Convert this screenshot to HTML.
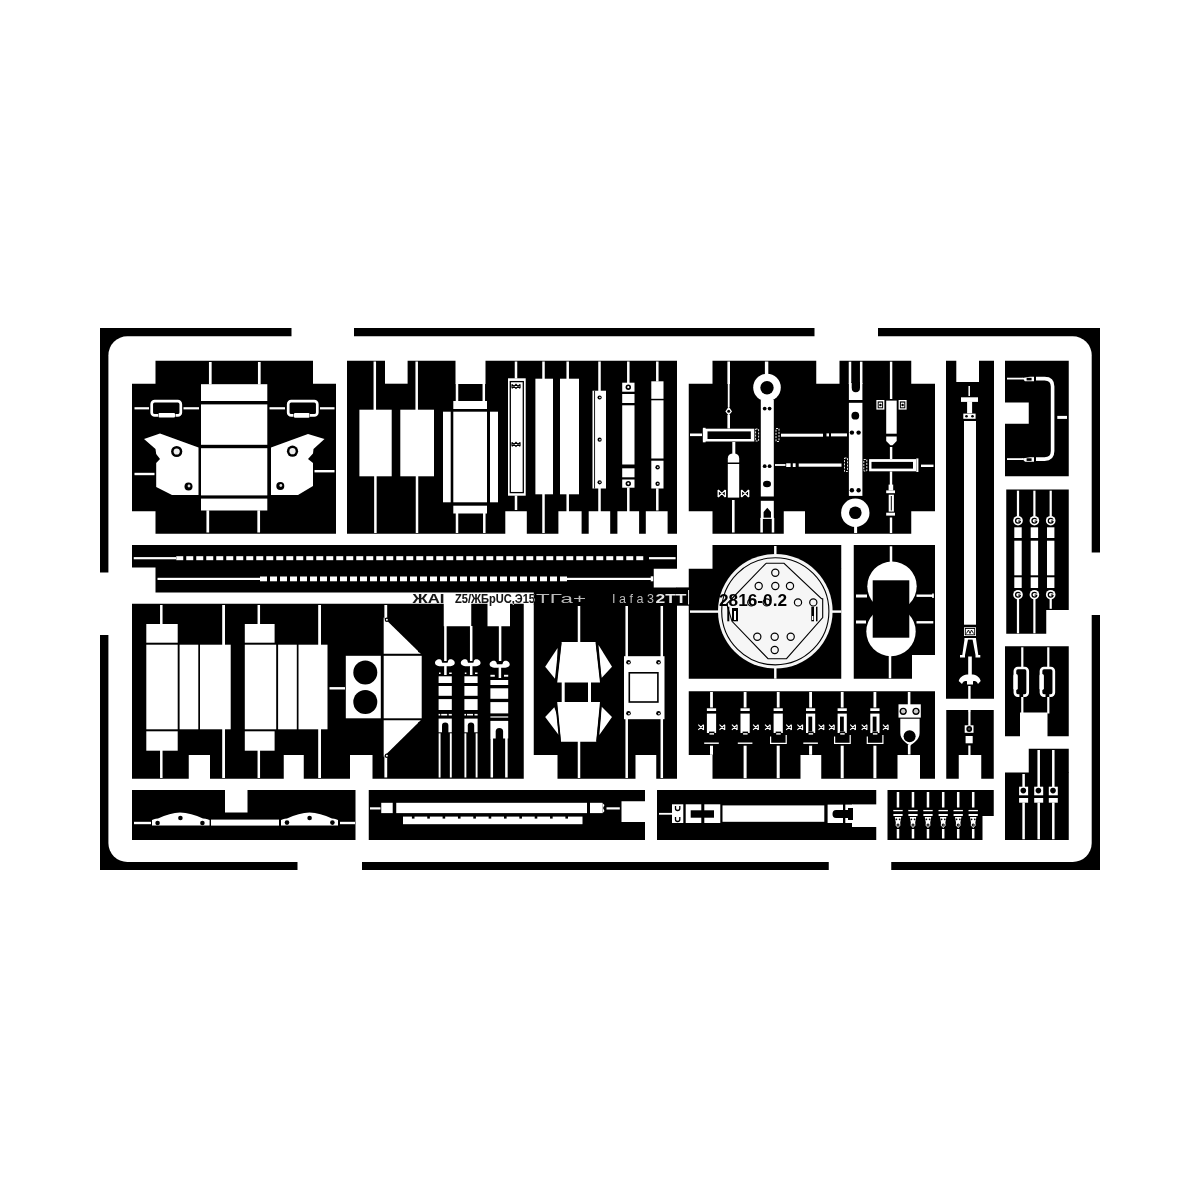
<!DOCTYPE html>
<html><head><meta charset="utf-8"><title>Photo-etch fret</title>
<style>
html,body{margin:0;padding:0;background:#fff;font-family:"Liberation Sans",sans-serif;}
svg{display:block;}
</style></head><body>
<svg width="1200" height="1200" viewBox="0 0 1200 1200">
<g filter="url(#soft)">
<rect x="-10" y="-10" width="1220" height="1220" fill="#fff"/>
<rect x="100" y="328" width="1000" height="542" fill="#000"/>
<rect x="108.4" y="336.2" width="983.3" height="525.8" rx="19" fill="#fff"/>
<rect x="291.5" y="320" width="62.5" height="20" fill="#fff"/>
<rect x="814.5" y="320" width="63.5" height="20" fill="#fff"/>
<rect x="95" y="572.5" width="17" height="62.5" fill="#fff"/>
<rect x="1088" y="552.5" width="17" height="62.5" fill="#fff"/>
<rect x="297.5" y="860" width="64.5" height="15" fill="#fff"/>
<rect x="828.75" y="860" width="62.5" height="15" fill="#fff"/>
<rect x="155.5" y="360.75" width="157.5" height="23.25" fill="#000"/>
<rect x="132" y="383.75" width="204" height="127.5" fill="#000"/>
<rect x="155.5" y="511" width="180.5" height="22.75" fill="#000"/>
<rect x="347" y="360.75" width="330" height="173" fill="#000"/>
<rect x="385" y="360" width="22.6" height="23.7" fill="#fff"/>
<rect x="455.5" y="360" width="30" height="24" fill="#fff"/>
<rect x="505.3" y="511.25" width="21.5" height="23.25" fill="#fff"/>
<rect x="558.4" y="511.25" width="23.2" height="23.25" fill="#fff"/>
<rect x="588.7" y="511.25" width="21.5" height="23.25" fill="#fff"/>
<rect x="617.4" y="511.25" width="21.7" height="23.25" fill="#fff"/>
<rect x="645.8" y="511.25" width="21.8" height="23.25" fill="#fff"/>
<rect x="712.5" y="360.75" width="103.75" height="23.25" fill="#000"/>
<rect x="839.5" y="360.75" width="71.75" height="23.25" fill="#000"/>
<rect x="688.75" y="383.75" width="246.25" height="127.5" fill="#000"/>
<rect x="712.5" y="511" width="71.25" height="22.75" fill="#000"/>
<rect x="805" y="511" width="106.25" height="22.75" fill="#000"/>
<rect x="946" y="360.75" width="48" height="338" fill="#000"/>
<rect x="956.3" y="360" width="22.7" height="22" fill="#fff"/>
<rect x="1005" y="360.75" width="63.75" height="115.5" fill="#000"/>
<rect x="1004" y="402.5" width="24.75" height="21.25" fill="#fff"/>
<rect x="1006.25" y="489.5" width="62.5" height="144.25" fill="#000"/>
<rect x="1046.25" y="610" width="23.25" height="24.5" fill="#fff"/>
<rect x="132" y="545" width="545" height="22.5" fill="#000"/>
<rect x="155.5" y="567" width="521.5" height="25.5" fill="#000"/>
<rect x="712.5" y="545" width="128.75" height="24" fill="#000"/>
<rect x="688.75" y="568.75" width="152.5" height="110" fill="#000"/>
<rect x="853.75" y="545" width="81.25" height="133.75" fill="#000"/>
<rect x="132" y="603.75" width="391.75" height="175" fill="#000"/>
<rect x="188.75" y="755" width="21.25" height="24.5" fill="#fff"/>
<rect x="283.75" y="755" width="20" height="24.5" fill="#fff"/>
<rect x="350" y="755" width="22.5" height="24.5" fill="#fff"/>
<rect x="443.75" y="603" width="27.5" height="23.25" fill="#fff"/>
<rect x="487.5" y="603" width="22.5" height="23.25" fill="#fff"/>
<rect x="533.75" y="603.75" width="143.25" height="175" fill="#000"/>
<rect x="533" y="755" width="24.5" height="24.5" fill="#fff"/>
<rect x="635.5" y="755" width="20.75" height="24.5" fill="#fff"/>
<rect x="688.75" y="691.25" width="246.25" height="87.5" fill="#000"/>
<rect x="688" y="755" width="24.5" height="24.5" fill="#fff"/>
<rect x="800.5" y="755" width="20.75" height="24.5" fill="#fff"/>
<rect x="897.5" y="755" width="22.5" height="24.5" fill="#fff"/>
<rect x="946.25" y="710" width="47.5" height="68.75" fill="#000"/>
<rect x="958.75" y="755" width="22.5" height="24.5" fill="#fff"/>
<rect x="1005" y="646.25" width="63.75" height="90" fill="#000"/>
<rect x="1020" y="712.5" width="27.5" height="24.5" fill="#fff"/>
<rect x="1028.75" y="748.75" width="40" height="24.25" fill="#000"/>
<rect x="1005" y="772.5" width="63.75" height="67.5" fill="#000"/>
<rect x="132" y="790" width="223.5" height="50" fill="#000"/>
<rect x="225" y="789" width="22.5" height="23.5" fill="#fff"/>
<rect x="368.75" y="790" width="276.25" height="50" fill="#000"/>
<rect x="621.5" y="801.25" width="24.5" height="20.75" fill="#fff"/>
<rect x="657" y="790" width="219.25" height="50" fill="#000"/>
<rect x="887.5" y="790" width="106.25" height="50" fill="#000"/>
<rect x="982.5" y="816" width="12" height="25" fill="#fff"/>
<rect x="208.95" y="362" width="2.7" height="22.5" fill="#fff"/>
<rect x="257.95" y="362" width="2.7" height="22.5" fill="#fff"/>
<rect x="206.45" y="510.3" width="2.7" height="22.2" fill="#fff"/>
<rect x="257.35" y="510.3" width="2.7" height="22.2" fill="#fff"/>
<rect x="201" y="384.2" width="66.3" height="16.8" fill="#fff"/>
<rect x="201" y="404.4" width="66.3" height="40.4" fill="#fff"/>
<rect x="201" y="448.2" width="66.3" height="47.2" fill="#fff"/>
<rect x="201" y="498.6" width="66.3" height="11.9" fill="#fff"/>
<rect x="151.7" y="401.2" width="29.1" height="14.2" rx="3" fill="none" stroke="#fff" stroke-width="2.7"/>
<rect x="288.2" y="401.2" width="29.1" height="14.2" rx="3" fill="none" stroke="#fff" stroke-width="2.7"/>
<rect x="158" y="414" width="17.5" height="4" fill="#000"/>
<rect x="158.5" y="413" width="16.5" height="4.6" rx="1" fill="#fff"/>
<rect x="293.5" y="414" width="16.5" height="4" fill="#000"/>
<rect x="294" y="413" width="15.5" height="4.8" rx="1" fill="#fff"/>
<rect x="134.5" y="407.2" width="14.5" height="2.2" fill="#fff"/>
<rect x="183.5" y="407.2" width="15.5" height="2.2" fill="#fff"/>
<rect x="269.5" y="407.2" width="15.5" height="2.2" fill="#fff"/>
<rect x="320" y="407.2" width="14.5" height="2.2" fill="#fff"/>
<rect x="134.5" y="472.8" width="20" height="2.4" fill="#fff"/>
<rect x="314.5" y="470" width="20" height="2.4" fill="#fff"/>
<polygon points="144,439 160,433.5 198.5,447.5 198.5,495 172,495 156.2,487 156.2,463 160,459 156.2,454 155.5,449" fill="#fff"/>
<polygon points="271,447.5 308,434 324.5,439 313.5,449 313,453.5 308,459 313,463 313,486 298,495 271,495" fill="#fff"/>
<circle cx="176.7" cy="451.5" r="5.6" fill="#000"/>
<circle cx="176.7" cy="451.5" r="3.1" fill="#eee"/>
<circle cx="292.5" cy="451.2" r="5.6" fill="#000"/>
<circle cx="292.5" cy="451.2" r="3.1" fill="#eee"/>
<circle cx="188.5" cy="486.5" r="4" fill="#000"/>
<circle cx="189" cy="486" r="1.4" fill="#ddd"/>
<circle cx="280.3" cy="486" r="4" fill="#000"/>
<circle cx="280.8" cy="485.5" r="1.4" fill="#ddd"/>
<rect x="653.75" y="568.75" width="24.25" height="18.75" fill="#fff"/>
<rect x="133.75" y="557.1" width="42.25" height="2.2" fill="#fff"/>
<rect x="176.25" y="556.2" width="7" height="4" fill="#fff"/>
<rect x="186.25" y="556.2" width="7" height="4" fill="#fff"/>
<rect x="196.25" y="556.2" width="7" height="4" fill="#fff"/>
<rect x="206.25" y="556.2" width="7" height="4" fill="#fff"/>
<rect x="216.25" y="556.2" width="7" height="4" fill="#fff"/>
<rect x="226.25" y="556.2" width="7" height="4" fill="#fff"/>
<rect x="236.25" y="556.2" width="7" height="4" fill="#fff"/>
<rect x="246.25" y="556.2" width="7" height="4" fill="#fff"/>
<rect x="256.25" y="556.2" width="7" height="4" fill="#fff"/>
<rect x="266.25" y="556.2" width="7" height="4" fill="#fff"/>
<rect x="276.25" y="556.2" width="7" height="4" fill="#fff"/>
<rect x="286.25" y="556.2" width="7" height="4" fill="#fff"/>
<rect x="296.25" y="556.2" width="7" height="4" fill="#fff"/>
<rect x="306.25" y="556.2" width="7" height="4" fill="#fff"/>
<rect x="316.25" y="556.2" width="7" height="4" fill="#fff"/>
<rect x="326.25" y="556.2" width="7" height="4" fill="#fff"/>
<rect x="336.25" y="556.2" width="7" height="4" fill="#fff"/>
<rect x="346.25" y="556.2" width="7" height="4" fill="#fff"/>
<rect x="356.25" y="556.2" width="7" height="4" fill="#fff"/>
<rect x="366.25" y="556.2" width="7" height="4" fill="#fff"/>
<rect x="376.25" y="556.2" width="7" height="4" fill="#fff"/>
<rect x="386.25" y="556.2" width="7" height="4" fill="#fff"/>
<rect x="396.25" y="556.2" width="7" height="4" fill="#fff"/>
<rect x="406.25" y="556.2" width="7" height="4" fill="#fff"/>
<rect x="416.25" y="556.2" width="7" height="4" fill="#fff"/>
<rect x="426.25" y="556.2" width="7" height="4" fill="#fff"/>
<rect x="436.25" y="556.2" width="7" height="4" fill="#fff"/>
<rect x="446.25" y="556.2" width="7" height="4" fill="#fff"/>
<rect x="456.25" y="556.2" width="7" height="4" fill="#fff"/>
<rect x="466.25" y="556.2" width="7" height="4" fill="#fff"/>
<rect x="476.25" y="556.2" width="7" height="4" fill="#fff"/>
<rect x="486.25" y="556.2" width="7" height="4" fill="#fff"/>
<rect x="496.25" y="556.2" width="7" height="4" fill="#fff"/>
<rect x="506.25" y="556.2" width="7" height="4" fill="#fff"/>
<rect x="516.25" y="556.2" width="7" height="4" fill="#fff"/>
<rect x="526.25" y="556.2" width="7" height="4" fill="#fff"/>
<rect x="536.25" y="556.2" width="7" height="4" fill="#fff"/>
<rect x="546.25" y="556.2" width="7" height="4" fill="#fff"/>
<rect x="556.25" y="556.2" width="7" height="4" fill="#fff"/>
<rect x="566.25" y="556.2" width="7" height="4" fill="#fff"/>
<rect x="576.25" y="556.2" width="7" height="4" fill="#fff"/>
<rect x="586.25" y="556.2" width="7" height="4" fill="#fff"/>
<rect x="596.25" y="556.2" width="7" height="4" fill="#fff"/>
<rect x="606.25" y="556.2" width="7" height="4" fill="#fff"/>
<rect x="616.25" y="556.2" width="7" height="4" fill="#fff"/>
<rect x="626.25" y="556.2" width="7" height="4" fill="#fff"/>
<rect x="636.25" y="556.2" width="7" height="4" fill="#fff"/>
<rect x="649" y="557.1" width="26.6" height="2.2" fill="#fff"/>
<rect x="157.5" y="577.8" width="102.5" height="2.2" fill="#fff"/>
<rect x="260" y="576.5" width="7" height="4.8" fill="#fff"/>
<rect x="270" y="576.5" width="7" height="4.8" fill="#fff"/>
<rect x="280" y="576.5" width="7" height="4.8" fill="#fff"/>
<rect x="290" y="576.5" width="7" height="4.8" fill="#fff"/>
<rect x="300" y="576.5" width="7" height="4.8" fill="#fff"/>
<rect x="310" y="576.5" width="7" height="4.8" fill="#fff"/>
<rect x="320" y="576.5" width="7" height="4.8" fill="#fff"/>
<rect x="330" y="576.5" width="7" height="4.8" fill="#fff"/>
<rect x="340" y="576.5" width="7" height="4.8" fill="#fff"/>
<rect x="350" y="576.5" width="7" height="4.8" fill="#fff"/>
<rect x="360" y="576.5" width="7" height="4.8" fill="#fff"/>
<rect x="370" y="576.5" width="7" height="4.8" fill="#fff"/>
<rect x="380" y="576.5" width="7" height="4.8" fill="#fff"/>
<rect x="390" y="576.5" width="7" height="4.8" fill="#fff"/>
<rect x="400" y="576.5" width="7" height="4.8" fill="#fff"/>
<rect x="410" y="576.5" width="7" height="4.8" fill="#fff"/>
<rect x="420" y="576.5" width="7" height="4.8" fill="#fff"/>
<rect x="430" y="576.5" width="7" height="4.8" fill="#fff"/>
<rect x="440" y="576.5" width="7" height="4.8" fill="#fff"/>
<rect x="450" y="576.5" width="7" height="4.8" fill="#fff"/>
<rect x="460" y="576.5" width="7" height="4.8" fill="#fff"/>
<rect x="470" y="576.5" width="7" height="4.8" fill="#fff"/>
<rect x="480" y="576.5" width="7" height="4.8" fill="#fff"/>
<rect x="490" y="576.5" width="7" height="4.8" fill="#fff"/>
<rect x="500" y="576.5" width="7" height="4.8" fill="#fff"/>
<rect x="510" y="576.5" width="7" height="4.8" fill="#fff"/>
<rect x="520" y="576.5" width="7" height="4.8" fill="#fff"/>
<rect x="530" y="576.5" width="7" height="4.8" fill="#fff"/>
<rect x="540" y="576.5" width="7" height="4.8" fill="#fff"/>
<rect x="550" y="576.5" width="7" height="4.8" fill="#fff"/>
<rect x="560" y="576.5" width="7" height="4.8" fill="#fff"/>
<rect x="566" y="577.8" width="86" height="2.2" fill="#fff"/>
<rect x="650.75" y="576.3" width="2.5" height="5" fill="#fff"/>
<rect x="455.75" y="383.7" width="2.5" height="17.3" fill="#fff"/>
<rect x="482.55" y="383.7" width="2.5" height="17.3" fill="#fff"/>
<rect x="455.75" y="513" width="2.5" height="20" fill="#fff"/>
<rect x="483.05" y="513" width="2.5" height="20" fill="#fff"/>
<rect x="359.4" y="409.7" width="32.3" height="66.6" fill="#fff"/>
<rect x="400.3" y="409.7" width="33.7" height="66.6" fill="#fff"/>
<rect x="373.55" y="361.5" width="2.5" height="48.5" fill="#fff"/>
<rect x="374.15" y="476" width="2.5" height="57" fill="#fff"/>
<rect x="415.45" y="361.5" width="2.5" height="48.5" fill="#fff"/>
<rect x="415.75" y="476" width="2.5" height="57" fill="#fff"/>
<rect x="453.3" y="401" width="33.7" height="8" fill="#fff"/>
<rect x="453.3" y="411.7" width="33.7" height="90.6" fill="#fff"/>
<rect x="453.3" y="505.7" width="33.7" height="7.8" fill="#fff"/>
<rect x="443" y="411.7" width="7.7" height="90.6" fill="#fff"/>
<rect x="490" y="411.7" width="8" height="90.6" fill="#fff"/>
<rect x="508" y="378.3" width="17.7" height="117.4" fill="#fff"/>
<rect x="510.3" y="381.6" width="13" height="111" fill="none" stroke="#000" stroke-width="1.3"/>
<path d="M512,384.3 l4,4 l4,-4 M512,388.3 l4,-4 l4,4 M512,384.3 v4 M520,384.3 v4" fill="none" stroke="#000" stroke-width="1.2" />
<path d="M512,442.3 l4,4 l4,-4 M512,446.3 l4,-4 l4,4 M512,442.3 v4 M520,442.3 v4" fill="none" stroke="#000" stroke-width="1.2" />
<rect x="514.75" y="361.5" width="2.5" height="17" fill="#fff"/>
<rect x="514.75" y="495.5" width="2.5" height="14.5" fill="#fff"/>
<rect x="535.4" y="378.7" width="17.6" height="115.6" fill="#fff"/>
<rect x="542.25" y="361.5" width="2.5" height="17.5" fill="#fff"/>
<rect x="542.25" y="494" width="2.5" height="39" fill="#fff"/>
<rect x="560" y="378.7" width="19" height="115.6" fill="#fff"/>
<rect x="566.45" y="361.5" width="2.5" height="17.5" fill="#fff"/>
<rect x="566.45" y="494" width="2.5" height="18" fill="#fff"/>
<rect x="592.5" y="390.7" width="13.5" height="97.8" fill="#fff"/>
<rect x="594.15" y="390.7" width="0.9" height="97.8" fill="#000"/>
<rect x="598.25" y="361.5" width="2.5" height="29.5" fill="#fff"/>
<rect x="598.25" y="488" width="2.5" height="24" fill="#fff"/>
<circle cx="599.6" cy="397.5" r="2.1" fill="#000"/>
<circle cx="599.9" cy="397.5" r="0.8" fill="#fff"/>
<circle cx="599.6" cy="439.7" r="2.1" fill="#000"/>
<circle cx="599.9" cy="439.7" r="0.8" fill="#fff"/>
<circle cx="599.6" cy="482.3" r="2.1" fill="#000"/>
<circle cx="599.9" cy="482.3" r="0.8" fill="#fff"/>
<rect x="627.05" y="361.5" width="2.5" height="21.5" fill="#fff"/>
<rect x="627.05" y="487.5" width="2.5" height="24.5" fill="#fff"/>
<rect x="622.2" y="382.7" width="12.3" height="9" fill="#fff"/>
<rect x="622.2" y="394" width="12.3" height="9" fill="#fff"/>
<rect x="622.2" y="405.3" width="12.3" height="59.2" fill="#fff"/>
<rect x="622.2" y="468.3" width="12.3" height="9" fill="#fff"/>
<rect x="622.2" y="479.5" width="12.3" height="8.2" fill="#fff"/>
<circle cx="628.3" cy="387.2" r="2.7" fill="#000"/>
<circle cx="628.3" cy="387.2" r="1.1" fill="#fff"/>
<circle cx="628.3" cy="483.6" r="2.7" fill="#000"/>
<circle cx="628.3" cy="483.6" r="1.1" fill="#fff"/>
<rect x="656.05" y="361.5" width="2.5" height="20" fill="#fff"/>
<rect x="656.05" y="488.3" width="2.5" height="22.2" fill="#fff"/>
<rect x="651.3" y="381.3" width="12.2" height="17.5" fill="#fff"/>
<rect x="651.3" y="400.3" width="12.2" height="58.2" fill="#fff"/>
<rect x="651.3" y="460.7" width="12.2" height="27.8" fill="#fff"/>
<circle cx="657.6" cy="467.2" r="2.2" fill="#000"/>
<circle cx="657.8" cy="467.2" r="0.8" fill="#fff"/>
<circle cx="657.6" cy="483.7" r="2.2" fill="#000"/>
<circle cx="657.8" cy="483.7" r="0.8" fill="#fff"/>
<rect x="727.4" y="361.5" width="2.6" height="22.5" fill="#fff"/>
<rect x="727.8" y="384" width="1.8" height="23" fill="#fff"/>
<rect x="727.4" y="415" width="2.6" height="13.5" fill="#fff"/>
<polygon points="728.7,406.5 732,411.5 728.7,415.5 725.4,411.5" fill="#fff"/>
<circle cx="728.7" cy="411.3" r="1.5" fill="#000"/>
<rect x="702.9" y="428.7" width="51.4" height="12.8" fill="#fff"/>
<rect x="707.5" y="431.4" width="43.3" height="7.6" fill="#000"/>
<rect x="702.9" y="427.8" width="2.7" height="14.5" fill="#fff"/>
<rect x="690" y="433.5" width="12" height="2.6" fill="#fff"/>
<rect x="755.6" y="429" width="3" height="12" fill="none" stroke="#fff" stroke-width="0.9" stroke-dasharray="2 1.2"/>
<rect x="732.3" y="442" width="3" height="12" fill="#fff"/>
<path d="M727.8,462.4 L727.8,458.5 Q727.8,453.6 733.5,453.6 Q739.2,453.6 739.2,458.5 L739.2,462.4 Z" fill="#fff"/>
<rect x="727.8" y="464" width="11.4" height="33.6" fill="#fff"/>
<path d="M718.1999999999999,489.9 L725.4,497.1 M725.4,489.9 L718.1999999999999,497.1 M718.1999999999999,489.9 V497.1 M725.4,489.9 V497.1" fill="none" stroke="#fff" stroke-width="1.3" />
<path d="M741.5,489.9 L748.7,497.1 M748.7,489.9 L741.5,497.1 M741.5,489.9 V497.1 M748.7,489.9 V497.1" fill="none" stroke="#fff" stroke-width="1.3" />
<rect x="732" y="500" width="2.6" height="32.5" fill="#fff"/>
<rect x="764.9" y="361.5" width="3.4" height="13.5" fill="#fff"/>
<circle cx="767" cy="387.5" r="13.8" fill="#fff"/>
<circle cx="767" cy="387.8" r="6.7" fill="#000"/>
<rect x="760.8" y="400" width="13" height="96.5" fill="#fff"/>
<circle cx="764.7" cy="408.6" r="1.9" fill="#000"/>
<circle cx="769.6" cy="408.6" r="1.9" fill="#000"/>
<circle cx="764.7" cy="466.2" r="1.9" fill="#000"/>
<circle cx="769.6" cy="466.2" r="1.9" fill="#000"/>
<ellipse cx="767" cy="484" rx="4" ry="3.2" fill="#000"/>
<rect x="760.8" y="500.8" width="13" height="17.7" fill="#fff"/>
<polygon points="763.6,519 763.6,512 767.3,507.8 771,512 771,519" fill="#000"/>
<rect x="760.35" y="518" width="2.5" height="14.5" fill="#fff"/>
<rect x="771.75" y="518" width="2.5" height="14.5" fill="#fff"/>
<rect x="760.8" y="517.7" width="13" height="1.2" fill="#fff"/>
<rect x="781" y="433.7" width="42" height="3" fill="#fff"/>
<rect x="826.5" y="433.4" width="2.5" height="3" fill="#fff"/>
<rect x="831" y="433.4" width="16" height="3" fill="#fff"/>
<rect x="776" y="428.5" width="3" height="13" fill="none" stroke="#fff" stroke-width="0.9" stroke-dasharray="2 1.2"/>
<rect x="775" y="464.1" width="10.5" height="1.8" fill="#fff"/>
<rect x="786.2" y="463.3" width="4.4" height="3.7" fill="#fff"/>
<rect x="792.8" y="463.3" width="2.8" height="3.7" fill="#fff"/>
<rect x="798.7" y="463.5" width="42.8" height="3.2" fill="#fff"/>
<rect x="844.5" y="458" width="3" height="13.5" fill="none" stroke="#fff" stroke-width="0.9" stroke-dasharray="2 1.2"/>
<rect x="848.75" y="361.7" width="2.5" height="22.3" fill="#fff"/>
<rect x="859.95" y="361.7" width="2.5" height="22.3" fill="#fff"/>
<rect x="848.9" y="383" width="13.5" height="17" fill="#fff"/>
<path d="M851.7,382 V387.5 Q851.7,392.2 855.7,392.2 Q860,392.2 860,387.5 V382 Z" fill="#000"/>
<rect x="848.9" y="402.8" width="13.5" height="93.1" fill="#fff"/>
<circle cx="855.3" cy="415.7" r="3.9" fill="#000"/>
<circle cx="851.9" cy="432.6" r="2.2" fill="#000"/>
<circle cx="858.6" cy="432.6" r="2.2" fill="#000"/>
<circle cx="851.9" cy="490.2" r="2.2" fill="#000"/>
<circle cx="858.6" cy="490.2" r="2.2" fill="#000"/>
<circle cx="855.3" cy="512.7" r="14.2" fill="#fff"/>
<circle cx="855.3" cy="512.7" r="6.3" fill="#000"/>
<rect x="854.1" y="526" width="3" height="7" fill="#fff"/>
<rect x="889.9" y="361.7" width="2.4" height="37.3" fill="#fff"/>
<rect x="886.2" y="400.6" width="10.5" height="33.1" fill="#fff"/>
<path d="M886.2,436.6 H896.7 V441 L892.5,445.2 H890.4 L886.2,441 Z" fill="#fff"/>
<rect x="876.4" y="400" width="8" height="9.6" fill="#fff"/>
<rect x="877.7" y="401.4" width="5.4" height="6.9" fill="#000"/>
<rect x="878.7" y="402.6" width="3.4" height="4.7" fill="#fff"/>
<circle cx="880.4" cy="405" r="1.2" fill="#000"/>
<rect x="898.6" y="400" width="8" height="9.6" fill="#fff"/>
<rect x="899.9" y="401.4" width="5.4" height="6.9" fill="#000"/>
<rect x="900.9" y="402.6" width="3.4" height="4.7" fill="#fff"/>
<circle cx="902.6" cy="405" r="1.2" fill="#000"/>
<rect x="889.9" y="447" width="2.4" height="12" fill="#fff"/>
<rect x="869.1" y="459.1" width="46.9" height="12.2" fill="#fff"/>
<rect x="871.5" y="461.9" width="41.5" height="6.7" fill="#000"/>
<rect x="916.3" y="458.4" width="2.1" height="13.6" fill="#fff"/>
<rect x="863.8" y="459.5" width="3" height="11.5" fill="none" stroke="#fff" stroke-width="0.9" stroke-dasharray="2 1.2"/>
<rect x="921" y="464.6" width="12.5" height="2.4" fill="#fff"/>
<rect x="889.8" y="471.5" width="2.4" height="13.5" fill="#fff"/>
<rect x="888.6" y="484.6" width="4.6" height="5.9" fill="#fff"/>
<rect x="886.2" y="490.4" width="8.8" height="2.8" fill="#fff"/>
<rect x="888.7" y="494.7" width="5.2" height="16.9" fill="#fff"/>
<rect x="890.8" y="496" width="1" height="14.5" fill="#000"/>
<rect x="886.2" y="512.7" width="8.8" height="2.9" fill="#fff"/>
<rect x="889.8" y="517.5" width="2.4" height="15.5" fill="#fff"/>
<rect x="968.45" y="386" width="1.5" height="10" fill="#fff"/>
<rect x="961" y="397.3" width="17" height="4.6" fill="#fff"/>
<rect x="967.1" y="401.5" width="5" height="11.8" fill="#fff"/>
<rect x="963.3" y="413.6" width="12.3" height="5.2" fill="#fff"/>
<circle cx="966.5" cy="416.3" r="1.3" fill="#000"/>
<circle cx="972.5" cy="416.3" r="1.3" fill="#000"/>
<rect x="964" y="421" width="12" height="203.7" fill="#fff"/>
<rect x="964" y="627.3" width="12" height="8.7" fill="#fff"/>
<rect x="965.3" y="628.5" width="9.4" height="6.3" fill="none" stroke="#000" stroke-width="0.9"/>
<path d="M966.5,633.5 l2,-3.5 l1.5,3.5 l1.5,-3.5 l2,3.5" fill="none" stroke="#000" stroke-width="0.9" />
<polygon points="964.7,638 968.3,638 965,655 965,657.5 960,657.5 960,655 962.3,655" fill="#fff"/>
<polygon points="972.3,638 975.9,638 978.3,655 980.3,655 980.3,657.5 975.5,657.5 975.5,655" fill="#fff"/>
<rect x="964.7" y="638" width="11.2" height="1.6" fill="#fff"/>
<rect x="968.2" y="656.5" width="3.6" height="19.5" fill="#fff"/>
<path d="M970,674.5 C966,674 960,675.5 958.7,681 L962,684 C963,681 965,680.5 967,681.2 L967,684.5 H973 L973,681.2 C975,680.5 977,681 978,684 L980.7,681 C979.5,675.5 974,674 970,674.5 Z" fill="#fff"/>
<rect x="968.2" y="686" width="2.4" height="26" fill="#fff"/>
<rect x="968.3" y="712" width="2.2" height="13.5" fill="#fff"/>
<rect x="964.7" y="725.3" width="8.8" height="7.5" fill="#fff"/>
<circle cx="969.2" cy="729" r="2.9" fill="#000"/>
<circle cx="969.2" cy="729" r="1.2" fill="#444"/>
<rect x="965.6" y="736" width="7.1" height="7.3" fill="#fff"/>
<rect x="968.3" y="745.5" width="2.2" height="9.5" fill="#fff"/>
<path d="M1007,378.6 H1023" fill="none" stroke="#fff" stroke-width="1.8" />
<path d="M1036,378.6 H1044.6 Q1052.6,378.6 1052.6,386.6 V451.1 Q1052.6,459.1 1044.6,459.1 H1036" fill="none" stroke="#fff" stroke-width="3.6" />
<path d="M1007,459.1 H1023" fill="none" stroke="#fff" stroke-width="1.8" />
<polygon points="1022,377.9 1025,381.3 1034,381.3 1034,376.7 1030,376.7" fill="#fff"/>
<rect x="1026.6" y="377.8" width="5" height="2.6" fill="#000"/>
<polygon points="1022,458.4 1025,461.8 1034,461.8 1034,457.2 1030,457.2" fill="#fff"/>
<rect x="1026.6" y="458.3" width="5" height="2.6" fill="#000"/>
<rect x="1057.3" y="415.9" width="9.7" height="3" fill="#fff"/>
<rect x="1016.9" y="490.7" width="2.2" height="25.8" fill="#fff"/>
<rect x="1016.9" y="599" width="2.2" height="34.3" fill="#fff"/>
<circle cx="1018" cy="520.7" r="4.8" fill="#fff"/>
<circle cx="1018" cy="520.7" r="2.4" fill="none" stroke="#000" stroke-width="1.3"/>
<rect x="1018.8" y="519.5" width="2.7" height="1.4" fill="#fff"/>
<rect x="1018.2" y="520.5" width="2" height="1.1" fill="#000"/>
<circle cx="1018" cy="594.7" r="4.8" fill="#fff"/>
<circle cx="1018" cy="594.7" r="2.4" fill="none" stroke="#000" stroke-width="1.3"/>
<rect x="1018.8" y="593.5" width="2.7" height="1.4" fill="#fff"/>
<rect x="1018.2" y="594.5" width="2" height="1.1" fill="#000"/>
<rect x="1014.3" y="527.3" width="7.4" height="10.7" fill="#fff"/>
<rect x="1014.3" y="540.7" width="7.4" height="34.6" fill="#fff"/>
<rect x="1014.3" y="577.3" width="7.4" height="10.7" fill="#fff"/>
<rect x="1033.3" y="490.7" width="2.2" height="25.8" fill="#fff"/>
<rect x="1033.3" y="599" width="2.2" height="34.3" fill="#fff"/>
<circle cx="1034.4" cy="520.7" r="4.8" fill="#fff"/>
<circle cx="1034.4" cy="520.7" r="2.4" fill="none" stroke="#000" stroke-width="1.3"/>
<rect x="1035.2" y="519.5" width="2.7" height="1.4" fill="#fff"/>
<rect x="1034.6" y="520.5" width="2" height="1.1" fill="#000"/>
<circle cx="1034.4" cy="594.7" r="4.8" fill="#fff"/>
<circle cx="1034.4" cy="594.7" r="2.4" fill="none" stroke="#000" stroke-width="1.3"/>
<rect x="1035.2" y="593.5" width="2.7" height="1.4" fill="#fff"/>
<rect x="1034.6" y="594.5" width="2" height="1.1" fill="#000"/>
<rect x="1030.7" y="527.3" width="7.4" height="10.7" fill="#fff"/>
<rect x="1030.7" y="540.7" width="7.4" height="34.6" fill="#fff"/>
<rect x="1030.7" y="577.3" width="7.4" height="10.7" fill="#fff"/>
<rect x="1049.6" y="490.7" width="2.2" height="25.8" fill="#fff"/>
<rect x="1049.6" y="599" width="2.2" height="9.8" fill="#fff"/>
<circle cx="1050.7" cy="520.7" r="4.8" fill="#fff"/>
<circle cx="1050.7" cy="520.7" r="2.4" fill="none" stroke="#000" stroke-width="1.3"/>
<rect x="1051.5" y="519.5" width="2.7" height="1.4" fill="#fff"/>
<rect x="1050.9" y="520.5" width="2" height="1.1" fill="#000"/>
<circle cx="1050.7" cy="594.7" r="4.8" fill="#fff"/>
<circle cx="1050.7" cy="594.7" r="2.4" fill="none" stroke="#000" stroke-width="1.3"/>
<rect x="1051.5" y="593.5" width="2.7" height="1.4" fill="#fff"/>
<rect x="1050.9" y="594.5" width="2" height="1.1" fill="#000"/>
<rect x="1047" y="527.3" width="7.4" height="10.7" fill="#fff"/>
<rect x="1047" y="540.7" width="7.4" height="34.6" fill="#fff"/>
<rect x="1047" y="577.3" width="7.4" height="10.7" fill="#fff"/>
<rect x="1014.9" y="668" width="12.8" height="27.6" rx="3" fill="none" stroke="#fff" stroke-width="2.7"/>
<rect x="1019.4" y="693.5" width="3.8" height="4.5" fill="#000"/>
<rect x="1013.4" y="674" width="4.4" height="16" rx="1.8" fill="#fff"/>
<rect x="1041" y="668" width="12.8" height="27.6" rx="3" fill="none" stroke="#fff" stroke-width="2.7"/>
<rect x="1045.5" y="693.5" width="3.8" height="4.5" fill="#000"/>
<rect x="1039.5" y="674" width="4.4" height="16" rx="1.8" fill="#fff"/>
<rect x="1021.2" y="647.3" width="2.2" height="19.7" fill="#fff"/>
<rect x="1047.2" y="647.3" width="2.2" height="19.7" fill="#fff"/>
<rect x="1021.2" y="697" width="2.2" height="16.5" fill="#fff"/>
<rect x="1047.2" y="697" width="2.2" height="16.5" fill="#fff"/>
<rect x="1022.35" y="774" width="2.5" height="13" fill="#fff"/>
<rect x="1019.1" y="786.7" width="9" height="8.6" fill="#fff"/>
<circle cx="1023.3" cy="790.6" r="2.8" fill="#000"/>
<rect x="1019.1" y="798" width="9" height="4.7" fill="#fff"/>
<rect x="1022.35" y="802.5" width="2.5" height="36.8" fill="#fff"/>
<rect x="1037.45" y="750" width="2.5" height="37" fill="#fff"/>
<rect x="1034.2" y="786.7" width="9" height="8.6" fill="#fff"/>
<circle cx="1038.4" cy="790.6" r="2.8" fill="#000"/>
<rect x="1034.2" y="798" width="9" height="4.7" fill="#fff"/>
<rect x="1037.45" y="802.5" width="2.5" height="36.8" fill="#fff"/>
<rect x="1052.05" y="750" width="2.5" height="37" fill="#fff"/>
<rect x="1048.8" y="786.7" width="9" height="8.6" fill="#fff"/>
<circle cx="1053" cy="790.6" r="2.8" fill="#000"/>
<rect x="1048.8" y="798" width="9" height="4.7" fill="#fff"/>
<rect x="1052.05" y="802.5" width="2.5" height="36.8" fill="#fff"/>
<rect x="533.75" y="592" width="143.25" height="12.5" fill="#000"/>
<rect x="774.1" y="546" width="2.4" height="8.5" fill="#fff"/>
<rect x="774.1" y="668" width="2.4" height="10.7" fill="#fff"/>
<rect x="690" y="610.4" width="29" height="2.4" fill="#fff"/>
<rect x="832" y="610.4" width="9.3" height="2.4" fill="#fff"/>
<circle cx="775.3" cy="611.3" r="57.3" fill="#f6f6f6"/>
<circle cx="775.3" cy="611.3" r="53.6" fill="none" stroke="#000" stroke-width="1.1"/>
<polyline points="766,563.3 784,563.3 821.5,598.7 822.7,598.7 822.7,617.5 786.5,658.7 768,658.7 732,621.3 726.7,604 766,563.3" fill="none" stroke="#000" stroke-width="1.1"/>
<circle cx="751.3" cy="602.4" r="3.6" fill="none" stroke="#000" stroke-width="1.2"/>
<circle cx="766.7" cy="602.4" r="3.6" fill="none" stroke="#000" stroke-width="1.2"/>
<circle cx="775.3" cy="572.7" r="3.6" fill="none" stroke="#000" stroke-width="1.2"/>
<circle cx="758.7" cy="586" r="3.6" fill="none" stroke="#000" stroke-width="1.2"/>
<circle cx="775.3" cy="586" r="3.6" fill="none" stroke="#000" stroke-width="1.2"/>
<circle cx="790" cy="586" r="3.6" fill="none" stroke="#000" stroke-width="1.2"/>
<circle cx="798" cy="602.4" r="3.6" fill="none" stroke="#000" stroke-width="1.2"/>
<circle cx="813.3" cy="602.4" r="3.6" fill="none" stroke="#000" stroke-width="1.2"/>
<circle cx="757.3" cy="636.7" r="3.6" fill="none" stroke="#000" stroke-width="1.2"/>
<circle cx="774.7" cy="636.7" r="3.6" fill="none" stroke="#000" stroke-width="1.2"/>
<circle cx="790.7" cy="636.7" r="3.6" fill="none" stroke="#000" stroke-width="1.2"/>
<circle cx="774.7" cy="650" r="3.6" fill="none" stroke="#000" stroke-width="1.2"/>
<rect x="727.3" y="606.7" width="2" height="14.6" fill="#000"/>
<rect x="732" y="608" width="6" height="13.3" fill="#000"/>
<rect x="734" y="611" width="2" height="9" fill="#fff"/>
<rect x="811.3" y="606.7" width="2.7" height="14.6" fill="#000"/>
<rect x="816" y="606.7" width="1.5" height="14.6" fill="#000"/>
<rect x="812" y="616" width="1.3" height="4" fill="#fff"/>
<text x="719" y="606.3" font-family="Liberation Sans, sans-serif" font-weight="bold" font-size="16" textLength="68" lengthAdjust="spacingAndGlyphs" fill="#000">2816-0.2</text>
<rect x="912" y="655" width="24" height="25.5" fill="#fff"/>
<circle cx="892" cy="586.3" r="24.7" fill="#fff"/>
<circle cx="891" cy="631.5" r="24.7" fill="#fff"/>
<rect x="872.7" y="580.3" width="36.6" height="57.4" fill="#000"/>
<rect x="856" y="594.5" width="11" height="3" fill="#fff"/>
<rect x="856" y="620.5" width="10" height="3" fill="#fff"/>
<rect x="916.5" y="594.5" width="16.8" height="2.4" fill="#fff"/>
<rect x="916.5" y="621.1" width="16.8" height="2.4" fill="#fff"/>
<rect x="932.2" y="593.5" width="1.6" height="4.5" fill="#fff"/>
<rect x="889.75" y="546.3" width="2.5" height="15.7" fill="#fff"/>
<rect x="888.75" y="656" width="2.5" height="22.3" fill="#fff"/>
<rect x="146.3" y="624" width="31.4" height="18.7" fill="#fff"/>
<rect x="146.3" y="644.7" width="84.4" height="84.6" fill="#fff"/>
<rect x="146.3" y="731.3" width="31.4" height="19.4" fill="#fff"/>
<rect x="177.7" y="644" width="1.9" height="86" fill="#000"/>
<rect x="198.3" y="644" width="1.7" height="86" fill="#000"/>
<rect x="160.05" y="605" width="2.5" height="19" fill="#fff"/>
<rect x="160.05" y="750" width="2.5" height="28" fill="#fff"/>
<rect x="222.2" y="605" width="2.8" height="40" fill="#fff"/>
<rect x="222.2" y="729" width="2.8" height="49" fill="#fff"/>
<rect x="244.8" y="624" width="29.8" height="18.7" fill="#fff"/>
<rect x="244.8" y="644.7" width="82.7" height="84.6" fill="#fff"/>
<rect x="244.8" y="731.3" width="29.8" height="19.4" fill="#fff"/>
<rect x="276.2" y="644" width="1.9" height="86" fill="#000"/>
<rect x="296.8" y="644" width="1.7" height="86" fill="#000"/>
<rect x="257.55" y="605" width="2.5" height="19" fill="#fff"/>
<rect x="257.55" y="750" width="2.5" height="28" fill="#fff"/>
<rect x="318.2" y="605" width="2.8" height="40" fill="#fff"/>
<rect x="318.2" y="729" width="2.8" height="49" fill="#fff"/>
<rect x="345.8" y="655.8" width="35" height="62.5" fill="#fff"/>
<circle cx="365.3" cy="672.5" r="12" fill="#000"/>
<circle cx="365.3" cy="702" r="12" fill="#000"/>
<rect x="329.5" y="687.1" width="15.5" height="2.4" fill="#fff"/>
<rect x="383.7" y="655.8" width="38" height="62.5" fill="#fff"/>
<polygon points="383.7,617.5 383.7,653.7 420.8,653.7" fill="#fff"/>
<polygon points="383.7,720.3 420.8,720.3 383.7,756.7" fill="#fff"/>
<rect x="384.4" y="605" width="2.8" height="13" fill="#fff"/>
<rect x="384.4" y="756" width="2.8" height="21.5" fill="#fff"/>
<circle cx="386.9" cy="619.7" r="2.2" fill="#000"/>
<circle cx="386.9" cy="619.7" r="1" fill="#fff"/>
<circle cx="386.9" cy="755.8" r="2.2" fill="#000"/>
<circle cx="386.9" cy="755.8" r="1" fill="#fff"/>
<circle cx="419.5" cy="651.3" r="1.3" fill="#000"/>
<circle cx="419.5" cy="723" r="1.3" fill="#000"/>
<rect x="444.15" y="626" width="2.5" height="35" fill="#fff"/>
<path d="M444.9,666.0 C442.9,666.3 436.09999999999997,667.0 435.09999999999997,663.5 C434.59999999999997,660.5 438.09999999999997,658.5 440.59999999999997,659.5 C442.09999999999997,660.5 441.4,661.0 442.29999999999995,662.8 L447.5,662.8 C448.4,661.0 447.7,660.5 449.2,659.5 C451.7,658.5 455.2,660.5 454.7,663.5 C453.7,667.0 446.9,666.3 444.9,666.0 Z" fill="#fff"/>
<rect x="444.15" y="665" width="2.5" height="10" fill="#fff"/>
<rect x="439" y="672.5" width="1.6" height="1.5" fill="#fff"/>
<rect x="449.2" y="672.5" width="2.5" height="1.5" fill="#fff"/>
<rect x="438.6" y="676.3" width="13.2" height="6.7" fill="#fff"/>
<rect x="438.6" y="686" width="13.2" height="9.8" fill="#fff"/>
<rect x="438.6" y="699.1" width="13.2" height="10.9" fill="#fff"/>
<rect x="438.6" y="713.9" width="13.2" height="1.6" fill="#fff"/>
<rect x="440.2" y="713" width="1" height="3.5" fill="#000"/>
<rect x="447.2" y="713" width="1.5" height="3.5" fill="#000"/>
<rect x="438.6" y="718.6" width="13.2" height="13.7" fill="#fff"/>
<path d="M442.0,733 V725.6 Q442.0,722.4 445.2,722.4 Q448.4,722.4 448.4,725.6 V733 Z" fill="#000"/>
<rect x="438.65" y="733.3" width="1.9" height="44.2" fill="#fff"/>
<rect x="449.85" y="733.3" width="1.9" height="44.2" fill="#fff"/>
<rect x="469.95" y="626" width="2.5" height="35" fill="#fff"/>
<path d="M470.7,666.0 C468.7,666.3 461.9,667.0 460.9,663.5 C460.4,660.5 463.9,658.5 466.4,659.5 C467.9,660.5 467.2,661.0 468.09999999999997,662.8 L473.3,662.8 C474.2,661.0 473.5,660.5 475.0,659.5 C477.5,658.5 481.0,660.5 480.5,663.5 C479.5,667.0 472.7,666.3 470.7,666.0 Z" fill="#fff"/>
<rect x="469.95" y="665" width="2.5" height="10" fill="#fff"/>
<rect x="464.8" y="672.5" width="1.6" height="1.5" fill="#fff"/>
<rect x="475" y="672.5" width="2.5" height="1.5" fill="#fff"/>
<rect x="464.4" y="676.3" width="13.2" height="6.7" fill="#fff"/>
<rect x="464.4" y="686" width="13.2" height="9.8" fill="#fff"/>
<rect x="464.4" y="699.1" width="13.2" height="10.9" fill="#fff"/>
<rect x="464.4" y="713.9" width="13.2" height="1.6" fill="#fff"/>
<rect x="466" y="713" width="1" height="3.5" fill="#000"/>
<rect x="473" y="713" width="1.5" height="3.5" fill="#000"/>
<rect x="464.4" y="718.6" width="13.2" height="13.7" fill="#fff"/>
<path d="M467.8,733 V725.6 Q467.8,722.4 471,722.4 Q474.2,722.4 474.2,725.6 V733 Z" fill="#000"/>
<rect x="464.45" y="733.3" width="1.9" height="44.2" fill="#fff"/>
<rect x="475.65" y="733.3" width="1.9" height="44.2" fill="#fff"/>
<rect x="498.85" y="626" width="2.5" height="35" fill="#fff"/>
<path d="M499.7,667.5 C497.7,667.8 490.7,668.5 489.7,665 C489.2,662 492.7,660 495.2,661 C496.7,662 496.2,662.5 497.09999999999997,664.3 L502.3,664.3 C503.2,662.5 502.7,662 504.2,661 C506.7,660 510.2,662 509.7,665 C508.7,668.5 501.7,667.8 499.7,667.5 Z" fill="#fff"/>
<rect x="498.65" y="666" width="2.5" height="12" fill="#fff"/>
<rect x="490.4" y="674.8" width="4.4" height="1.9" fill="#fff"/>
<rect x="504" y="674.8" width="4.2" height="1.9" fill="#fff"/>
<rect x="490.4" y="680" width="17.8" height="5" fill="#fff"/>
<rect x="490.4" y="688.3" width="17.8" height="10.5" fill="#fff"/>
<rect x="490.4" y="702.1" width="17.8" height="11.3" fill="#fff"/>
<rect x="490.4" y="716.4" width="17.8" height="1.2" fill="#fff"/>
<rect x="490.4" y="720.9" width="17.8" height="17.6" fill="#fff"/>
<path d="M495.7,739.5 V731.6 Q495.7,728 499.4,728 Q503.09999999999997,728 503.09999999999997,731.6 V739.5 Z" fill="#000"/>
<rect x="490.55" y="738" width="2.5" height="39.5" fill="#fff"/>
<rect x="505.15" y="738" width="2.5" height="39.5" fill="#fff"/>
<rect x="577.75" y="606" width="2.5" height="36" fill="#fff"/>
<rect x="577.75" y="741" width="2.5" height="37" fill="#fff"/>
<polygon points="561.7,642 595.5,642 600,682.5 557.2,682.5" fill="#fff"/>
<polygon points="557.2,702 600,702 596.2,741.7 561,741.7" fill="#fff"/>
<polygon points="557.6,648 545.2,666.7 555,678.8 557,660" fill="#fff"/>
<polygon points="598.5,645 612,666.7 601.5,678 600,662" fill="#fff"/>
<polygon points="554.3,707.2 545.2,717 558.7,735 557,715" fill="#fff"/>
<polygon points="601.5,706.5 612,717 599.3,735 601,716" fill="#fff"/>
<line x1="560.6" y1="643" x2="556" y2="682" stroke="#000" stroke-width="1.6"/>
<line x1="596.6" y1="643" x2="601.2" y2="682" stroke="#000" stroke-width="1.6"/>
<line x1="556" y1="703" x2="560" y2="741" stroke="#000" stroke-width="1.6"/>
<line x1="601.2" y1="703" x2="597.2" y2="741" stroke="#000" stroke-width="1.6"/>
<rect x="561.7" y="682" width="3" height="20.5" fill="#fff"/>
<rect x="588" y="682" width="3" height="20.5" fill="#fff"/>
<rect x="625.45" y="606" width="2.5" height="51" fill="#fff"/>
<rect x="660.55" y="606" width="2.5" height="51" fill="#fff"/>
<rect x="625.45" y="718" width="2.5" height="60" fill="#fff"/>
<rect x="660.55" y="718" width="2.5" height="60" fill="#fff"/>
<rect x="624" y="656.2" width="40.5" height="63" fill="#fff"/>
<rect x="629.3" y="672.8" width="28.6" height="29.2" fill="none" stroke="#000" stroke-width="1.6"/>
<circle cx="628.5" cy="662.2" r="2.3" fill="#000"/>
<circle cx="629" cy="662.6" r="0.9" fill="#fff"/>
<circle cx="658.5" cy="662.2" r="2.3" fill="#000"/>
<circle cx="659" cy="662.6" r="0.9" fill="#fff"/>
<circle cx="628.5" cy="713.2" r="2.3" fill="#000"/>
<circle cx="629" cy="713.6" r="0.9" fill="#fff"/>
<circle cx="658.5" cy="713.2" r="2.3" fill="#000"/>
<circle cx="659" cy="713.6" r="0.9" fill="#fff"/>
<rect x="710.1" y="692" width="2.8" height="15.5" fill="#fff"/>
<rect x="706.9" y="708.3" width="9.2" height="2.7" fill="#fff"/>
<rect x="706.9" y="713.6" width="9.2" height="19.4" fill="#fff"/>
<rect x="709" y="731.6" width="5.5" height="1.6" fill="#000"/>
<rect x="709.5" y="733.2" width="4.5" height="1.4" fill="#fff"/>
<path d="M698.3,724.6999999999999 L703.5,729.9 M703.5,724.6999999999999 L698.3,729.9 M703.5,724.6999999999999 V729.9" fill="none" stroke="#fff" stroke-width="1.1" />
<path d="M719.5,724.6999999999999 L724.7,729.9 M724.7,724.6999999999999 L719.5,729.9 M724.7,724.6999999999999 V729.9" fill="none" stroke="#fff" stroke-width="1.1" />
<rect x="704.2" y="742.5" width="14.6" height="1.4" fill="#fff"/>
<rect x="710" y="745.7" width="3" height="9.1" fill="#fff"/>
<rect x="743.7" y="692" width="2.8" height="15.5" fill="#fff"/>
<rect x="740.5" y="708.3" width="9.2" height="2.7" fill="#fff"/>
<rect x="740.5" y="713.6" width="9.2" height="19.4" fill="#fff"/>
<rect x="742.6" y="731.6" width="5.5" height="1.6" fill="#000"/>
<rect x="743.1" y="733.2" width="4.5" height="1.4" fill="#fff"/>
<path d="M731.9,724.6999999999999 L737.1,729.9 M737.1,724.6999999999999 L731.9,729.9 M737.1,724.6999999999999 V729.9" fill="none" stroke="#fff" stroke-width="1.1" />
<path d="M753.1,724.6999999999999 L758.3000000000001,729.9 M758.3000000000001,724.6999999999999 L753.1,729.9 M758.3000000000001,724.6999999999999 V729.9" fill="none" stroke="#fff" stroke-width="1.1" />
<rect x="737.8" y="742.5" width="14.6" height="1.4" fill="#fff"/>
<rect x="743.6" y="745.7" width="3" height="32.5" fill="#fff"/>
<rect x="776.8" y="692" width="2.8" height="15.5" fill="#fff"/>
<rect x="773.6" y="708.3" width="9.2" height="2.7" fill="#fff"/>
<rect x="773.6" y="713.6" width="9.2" height="19.4" fill="#fff"/>
<rect x="775.7" y="731.6" width="5.5" height="1.6" fill="#000"/>
<rect x="776.2" y="733.2" width="4.5" height="1.4" fill="#fff"/>
<path d="M765.0,724.6999999999999 L770.2,729.9 M770.2,724.6999999999999 L765.0,729.9 M770.2,724.6999999999999 V729.9" fill="none" stroke="#fff" stroke-width="1.1" />
<path d="M786.2,724.6999999999999 L791.4000000000001,729.9 M791.4000000000001,724.6999999999999 L786.2,729.9 M791.4000000000001,724.6999999999999 V729.9" fill="none" stroke="#fff" stroke-width="1.1" />
<path d="M770.6,736.5 V743.3 H786.2 V735" fill="none" stroke="#fff" stroke-width="1.2" />
<rect x="776.7" y="745.7" width="3" height="32.5" fill="#fff"/>
<rect x="809.2" y="692" width="2.8" height="15.5" fill="#fff"/>
<rect x="806" y="708.3" width="9.2" height="2.7" fill="#fff"/>
<rect x="806" y="713.6" width="9.2" height="19.4" fill="#fff"/>
<rect x="808.4" y="716.6" width="3.8" height="14.9" fill="#000"/>
<rect x="808.1" y="731.6" width="5.5" height="1.6" fill="#000"/>
<rect x="808.6" y="733.2" width="4.5" height="1.4" fill="#fff"/>
<path d="M797.4,724.6999999999999 L802.6,729.9 M802.6,724.6999999999999 L797.4,729.9 M802.6,724.6999999999999 V729.9" fill="none" stroke="#fff" stroke-width="1.1" />
<path d="M818.6,724.6999999999999 L823.8000000000001,729.9 M823.8000000000001,724.6999999999999 L818.6,729.9 M823.8000000000001,724.6999999999999 V729.9" fill="none" stroke="#fff" stroke-width="1.1" />
<rect x="803.3" y="742.5" width="14.6" height="1.4" fill="#fff"/>
<rect x="809.1" y="745.7" width="3" height="9.1" fill="#fff"/>
<rect x="840.8" y="692" width="2.8" height="15.5" fill="#fff"/>
<rect x="837.6" y="708.3" width="9.2" height="2.7" fill="#fff"/>
<rect x="837.6" y="713.6" width="9.2" height="19.4" fill="#fff"/>
<rect x="840" y="716.6" width="3.8" height="14.9" fill="#000"/>
<rect x="839.7" y="731.6" width="5.5" height="1.6" fill="#000"/>
<rect x="840.2" y="733.2" width="4.5" height="1.4" fill="#fff"/>
<path d="M829.0,724.6999999999999 L834.2,729.9 M834.2,724.6999999999999 L829.0,729.9 M834.2,724.6999999999999 V729.9" fill="none" stroke="#fff" stroke-width="1.1" />
<path d="M850.2,724.6999999999999 L855.4000000000001,729.9 M855.4000000000001,724.6999999999999 L850.2,729.9 M855.4000000000001,724.6999999999999 V729.9" fill="none" stroke="#fff" stroke-width="1.1" />
<path d="M834.6,736.5 V743.3 H850.2 V735" fill="none" stroke="#fff" stroke-width="1.2" />
<rect x="840.7" y="745.7" width="3" height="32.5" fill="#fff"/>
<rect x="873.5" y="692" width="2.8" height="15.5" fill="#fff"/>
<rect x="870.3" y="708.3" width="9.2" height="2.7" fill="#fff"/>
<rect x="870.3" y="713.6" width="9.2" height="19.4" fill="#fff"/>
<rect x="872.7" y="716.6" width="3.8" height="14.9" fill="#000"/>
<rect x="872.4" y="731.6" width="5.5" height="1.6" fill="#000"/>
<rect x="872.9" y="733.2" width="4.5" height="1.4" fill="#fff"/>
<path d="M861.6999999999999,724.6999999999999 L866.9,729.9 M866.9,724.6999999999999 L861.6999999999999,729.9 M866.9,724.6999999999999 V729.9" fill="none" stroke="#fff" stroke-width="1.1" />
<path d="M882.9,724.6999999999999 L888.1,729.9 M888.1,724.6999999999999 L882.9,729.9 M888.1,724.6999999999999 V729.9" fill="none" stroke="#fff" stroke-width="1.1" />
<path d="M867.3,736.5 V743.3 H882.9 V735" fill="none" stroke="#fff" stroke-width="1.2" />
<rect x="873.4" y="745.7" width="3" height="32.5" fill="#fff"/>
<rect x="907.8" y="692" width="2.6" height="13" fill="#fff"/>
<rect x="898.5" y="704.3" width="22.3" height="13.3" fill="#fff"/>
<circle cx="903.2" cy="711.3" r="3.6" fill="#000"/>
<circle cx="903.2" cy="711.3" r="2.2" fill="#ccc"/>
<circle cx="916" cy="711.3" r="3.6" fill="#000"/>
<circle cx="916" cy="711.3" r="2.2" fill="#ccc"/>
<path d="M900.3,718.8 H919.6 V733 C919.6,740 913,743 909.9,746 C907,743 900.3,740 900.3,733 Z" fill="#fff"/>
<circle cx="909.6" cy="736.2" r="6" fill="#000"/>
<rect x="907.9" y="745" width="2.6" height="9.5" fill="#fff"/>
<rect x="134" y="821.8" width="17" height="2.4" fill="#fff"/>
<rect x="340" y="821.8" width="15" height="2.4" fill="#fff"/>
<path d="M152,825.6 V820 Q153,819 158,818.4 Q170,813 180,812.6 Q191,813 203,818.4 Q208.6,819 209.6,820 V825.6 Z" fill="#fff"/>
<path d="M281,825.6 V820 Q282,819 287,818.4 Q299,813 309.6,812.6 Q320,813 332,818.4 Q337,819 338,820 V825.6 Z" fill="#fff"/>
<rect x="211" y="819.6" width="68" height="6" fill="#fff"/>
<circle cx="157.6" cy="823" r="2.3" fill="#000"/>
<circle cx="180.4" cy="818" r="2.3" fill="#000"/>
<circle cx="202.4" cy="823" r="2.3" fill="#000"/>
<circle cx="287" cy="822.6" r="2.3" fill="#000"/>
<circle cx="309.6" cy="818" r="2.3" fill="#000"/>
<circle cx="332.4" cy="822.6" r="2.3" fill="#000"/>
<rect x="370" y="807.3" width="10.5" height="2.2" fill="#fff"/>
<rect x="381.25" y="802.8" width="11.45" height="10.3" fill="#fff"/>
<rect x="396.25" y="802.8" width="190.75" height="10.3" fill="#fff"/>
<rect x="590" y="802.8" width="12.5" height="10.3" fill="#fff"/>
<polygon points="602.5,803.25 604.5,805 603,808 604.5,811 602.5,813.25" fill="#fff"/>
<rect x="606.5" y="807.3" width="13.3" height="2.2" fill="#fff"/>
<rect x="403" y="816.6" width="179.5" height="7.6" fill="#fff"/>
<rect x="411.9" y="816" width="2.6" height="2.6" fill="#000"/>
<rect x="427.25" y="816" width="2.6" height="2.6" fill="#000"/>
<rect x="442.6" y="816" width="2.6" height="2.6" fill="#000"/>
<rect x="457.95" y="816" width="2.6" height="2.6" fill="#000"/>
<rect x="473.3" y="816" width="2.6" height="2.6" fill="#000"/>
<rect x="488.65" y="816" width="2.6" height="2.6" fill="#000"/>
<rect x="504" y="816" width="2.6" height="2.6" fill="#000"/>
<rect x="519.35" y="816" width="2.6" height="2.6" fill="#000"/>
<rect x="534.7" y="816" width="2.6" height="2.6" fill="#000"/>
<rect x="550.05" y="816" width="2.6" height="2.6" fill="#000"/>
<rect x="565.4" y="816" width="2.6" height="2.6" fill="#000"/>
<rect x="852" y="804.4" width="26.5" height="22.6" fill="#fff"/>
<rect x="659" y="812.9" width="13" height="1.8" fill="#fff"/>
<rect x="672" y="804.3" width="11.3" height="18.7" fill="#fff"/>
<path d="M675.5,806 V808.5 Q675.5,810.5 677.6,810.5 Q679.8,810.5 679.8,808.5 V806" fill="none" stroke="#000" stroke-width="1.3" />
<path d="M675.5,817 V819.5 Q675.5,821.5 677.6,821.5 Q679.8,821.5 679.8,819.5 V817" fill="none" stroke="#000" stroke-width="1.3" />
<rect x="685.7" y="804.3" width="34.6" height="18.7" fill="#fff"/>
<rect x="690.7" y="810.3" width="23.3" height="7.4" fill="#000"/>
<rect x="701.3" y="804" width="3" height="19.5" fill="#000"/>
<rect x="722.5" y="805.4" width="101.8" height="16.4" fill="#fff"/>
<rect x="827.6" y="804.6" width="24.9" height="18.4" fill="#fff"/>
<path d="M853,810 H836 Q832.5,810 832.5,814 Q832.5,818 836,818 H853 Z" fill="#000"/>
<rect x="843" y="804" width="2.3" height="19.5" fill="#000"/>
<rect x="848" y="808" width="5" height="2.5" fill="#000"/>
<rect x="848" y="817.5" width="5" height="2.5" fill="#000"/>
<rect x="896.75" y="792" width="2.5" height="15.5" fill="#fff"/>
<rect x="893.3" y="809.95" width="9.4" height="1.3" fill="#fff"/>
<rect x="893.4" y="814" width="9.2" height="2" fill="#fff"/>
<polygon points="894.8,817 901.2,817 900.2,822.5 900.4,825.5 898,828 895.6,825.5 895.8,822.5" fill="#fff"/>
<circle cx="896.4" cy="819.3" r="0.9" fill="#000"/>
<circle cx="899.6" cy="819.3" r="0.9" fill="#000"/>
<circle cx="898" cy="825" r="1.5" fill="#000"/>
<circle cx="898" cy="825" r="0.6" fill="#fff"/>
<rect x="896.75" y="829" width="2.5" height="9.5" fill="#fff"/>
<rect x="911.75" y="792" width="2.5" height="15.5" fill="#fff"/>
<rect x="908.3" y="809.95" width="9.4" height="1.3" fill="#fff"/>
<rect x="908.4" y="814" width="9.2" height="2" fill="#fff"/>
<polygon points="909.8,817 916.2,817 915.2,822.5 915.4,825.5 913,828 910.6,825.5 910.8,822.5" fill="#fff"/>
<circle cx="911.4" cy="819.3" r="0.9" fill="#000"/>
<circle cx="914.6" cy="819.3" r="0.9" fill="#000"/>
<circle cx="913" cy="825" r="1.5" fill="#000"/>
<circle cx="913" cy="825" r="0.6" fill="#fff"/>
<rect x="911.75" y="829" width="2.5" height="9.5" fill="#fff"/>
<rect x="926.75" y="792" width="2.5" height="15.5" fill="#fff"/>
<rect x="923.3" y="809.95" width="9.4" height="1.3" fill="#fff"/>
<rect x="923.4" y="814" width="9.2" height="2" fill="#fff"/>
<polygon points="924.8,817 931.2,817 930.2,822.5 930.4,825.5 928,828 925.6,825.5 925.8,822.5" fill="#fff"/>
<circle cx="926.4" cy="819.3" r="0.9" fill="#000"/>
<circle cx="929.6" cy="819.3" r="0.9" fill="#000"/>
<circle cx="928" cy="825" r="1.5" fill="#000"/>
<circle cx="928" cy="825" r="0.6" fill="#fff"/>
<rect x="926.75" y="829" width="2.5" height="9.5" fill="#fff"/>
<rect x="941.95" y="792" width="2.5" height="15.5" fill="#fff"/>
<rect x="938.5" y="809.95" width="9.4" height="1.3" fill="#fff"/>
<rect x="938.6" y="814" width="9.2" height="2" fill="#fff"/>
<polygon points="940,817 946.4,817 945.4,822.5 945.6,825.5 943.2,828 940.8,825.5 941,822.5" fill="#fff"/>
<circle cx="941.6" cy="819.3" r="0.9" fill="#000"/>
<circle cx="944.8" cy="819.3" r="0.9" fill="#000"/>
<circle cx="943.2" cy="825" r="1.5" fill="#000"/>
<circle cx="943.2" cy="825" r="0.6" fill="#fff"/>
<rect x="941.95" y="829" width="2.5" height="9.5" fill="#fff"/>
<rect x="956.95" y="792" width="2.5" height="15.5" fill="#fff"/>
<rect x="953.5" y="809.95" width="9.4" height="1.3" fill="#fff"/>
<rect x="953.6" y="814" width="9.2" height="2" fill="#fff"/>
<polygon points="955,817 961.4,817 960.4,822.5 960.6,825.5 958.2,828 955.8,825.5 956,822.5" fill="#fff"/>
<circle cx="956.6" cy="819.3" r="0.9" fill="#000"/>
<circle cx="959.8" cy="819.3" r="0.9" fill="#000"/>
<circle cx="958.2" cy="825" r="1.5" fill="#000"/>
<circle cx="958.2" cy="825" r="0.6" fill="#fff"/>
<rect x="956.95" y="829" width="2.5" height="9.5" fill="#fff"/>
<rect x="971.95" y="792" width="2.5" height="15.5" fill="#fff"/>
<rect x="968.5" y="809.95" width="9.4" height="1.3" fill="#fff"/>
<rect x="968.6" y="814" width="9.2" height="2" fill="#fff"/>
<polygon points="970,817 976.4,817 975.4,822.5 975.6,825.5 973.2,828 970.8,825.5 971,822.5" fill="#fff"/>
<circle cx="971.6" cy="819.3" r="0.9" fill="#000"/>
<circle cx="974.8" cy="819.3" r="0.9" fill="#000"/>
<circle cx="973.2" cy="825" r="1.5" fill="#000"/>
<circle cx="973.2" cy="825" r="0.6" fill="#fff"/>
<rect x="971.95" y="829" width="2.5" height="9.5" fill="#fff"/>
<rect x="676.5" y="587.4" width="12.9" height="18.3" fill="#000"/>
<text x="412.5" y="603.4" font-family="Liberation Sans, sans-serif" font-weight="bold" font-size="12" textLength="32" lengthAdjust="spacingAndGlyphs" fill="#e8e8e8" style="mix-blend-mode:difference" >ЖAI</text>
<text x="455" y="603.4" font-family="Liberation Sans, sans-serif" font-weight="bold" font-size="12" textLength="80" lengthAdjust="spacingAndGlyphs" fill="#e8e8e8" style="mix-blend-mode:difference" >Z5/ЖБрUС,Э15</text>
<text x="536" y="603.4" font-family="Liberation Sans, sans-serif" font-weight="normal" font-size="12" textLength="50" lengthAdjust="spacingAndGlyphs" fill="#bbb" style="mix-blend-mode:difference" >ТГа+</text>
<text x="612" y="603.4" font-family="Liberation Sans, sans-serif" font-weight="normal" font-size="12" textLength="42" lengthAdjust="spacingAndGlyphs" fill="#bbb" style="mix-blend-mode:difference" >I a f a 3</text>
<text x="655.5" y="603.4" font-family="Liberation Sans, sans-serif" font-weight="bold" font-size="12" textLength="31" lengthAdjust="spacingAndGlyphs" fill="#e8e8e8" style="mix-blend-mode:difference" >2TT</text>
<rect x="688.15" y="590" width="0.9" height="14.5" fill="#fff"/>
</g>
<defs><filter id="soft" x="0" y="0" width="1200" height="1200" filterUnits="userSpaceOnUse"><feGaussianBlur stdDeviation="0.6"/></filter></defs>
</svg>
</body></html>
